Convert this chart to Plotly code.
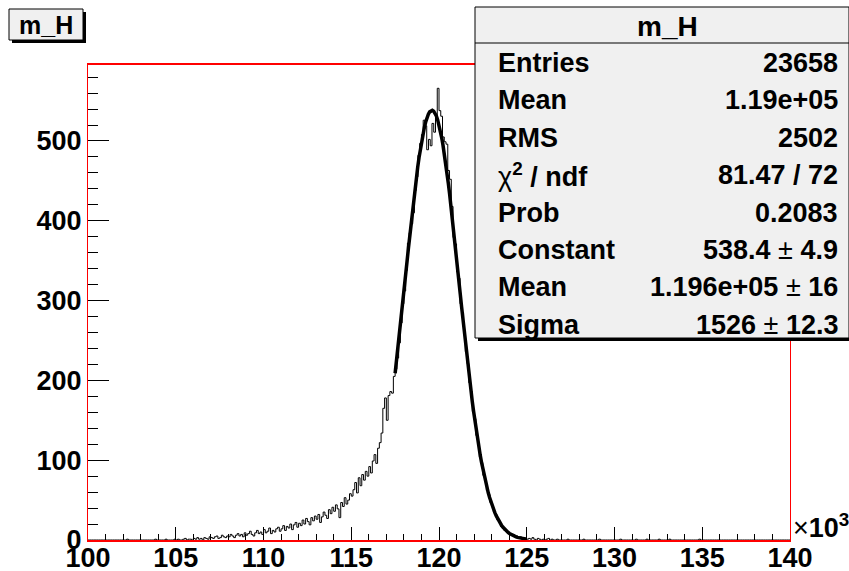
import numpy as np
import plotly.graph_objects as go

# ---- histogram m_H : 400 bins from 100 to 140 (x10^3) ----
x_lo, x_hi, n_bins = 100.0, 140.0, 400
counts = (
    [0, 0, 0, 0, 0, 0, 0, 0, 0, 0]
    + [0, 0, 0, 0, 0, 0, 0, 0, 0, 0]
    + [0, 0, 1, 0, 0, 0, 0, 0, 0, 0]
    + [0, 0, 0, 0, 0, 0, 0, 0, 1, 0]
    + [0, 0, 0, 0, 1, 0, 0, 0, 0, 1]
    + [0, 1, 0, 0, 1, 2, 0, 1, 1, 0]
    + [2, 1, 3, 1, 2, 0, 3, 2, 1, 4]
    + [3, 2, 4, 5, 2, 3, 6, 4, 3, 5]
    + [4, 7, 5, 3, 6, 8, 5, 7, 4, 9]
    + [6, 8, 11, 7, 5, 9, 12, 8, 10, 7]
    + [13, 9, 11, 15, 8, 12, 10, 14, 16, 11]
    + [14, 18, 12, 17, 15, 20, 13, 19, 22, 16]
    + [21, 18, 25, 20, 27, 23, 19, 28, 24, 30]
    + [26, 32, 22, 29, 35, 31, 27, 38, 33, 41]
    + [36, 44, 39, 28, 47, 42, 53, 45, 50, 58]
    + [55, 63, 72, 59, 78, 68, 82, 75, 86, 80]
    + [92, 84, 99, 107, 96, 115, 122, 134, 165, 178]
    + [150, 181, 186, 184, 205, 214, 228, 247, 272, 296]
    + [312, 338, 372, 385, 396, 410, 438, 455, 482, 497]
    + [508, 526, 519, 489, 502, 494, 522, 511, 530, 566]
    + [538, 531, 505, 499, 496, 463, 452, 418, 379, 371]
    + [336, 328, 296, 285, 262, 236, 221, 197, 186, 161]
    + [152, 131, 122, 104, 96, 81, 75, 62, 57, 47]
    + [43, 35, 32, 25, 23, 17, 16, 12, 11, 8]
    + [7, 6, 7, 4, 5, 3, 4, 2, 3, 2]
    + [1, 2, 1, 3, 1, 0, 2, 1, 0, 1]
    + [0, 1, 2, 0, 1, 0, 0, 1, 0, 0]
    + [0, 0, 0, 1, 0, 0, 0, 0, 0, 0]
    + [0, 0, 1, 0, 0, 0, 0, 0, 0, 0]
    + [0, 1, 0, 0, 0, 0, 0, 0, 0, 0]
    + [0, 0, 0, 1, 0, 0, 0, 0, 0, 0]
    + [0, 0, 1, 0, 0, 0, 0, 0, 1, 0]
    + [0, 0, 0, 0, 0, 1, 0, 0, 0, 0]
    + [0, 1, 0, 0, 0, 0, 0, 0, 0, 0]
    + [0, 0, 0, 0, 0, 0, 0, 0, 1, 0]
    + [0] * 50
)

# ---- gaussian fit result ----
fit_constant = 538.4
fit_mean = 119.6      # 1.196e+05
fit_sigma = 1.526     # 1526
fit_range = (117.5, 125.0)

# ---- statistics box ----
stat_title = "m_H"
stat_labels = ["Entries", "Mean", "RMS", "χ<sup>2</sup> / ndf", "Prob",
               "Constant", "Mean", "Sigma"]
stat_values = ["23658", "1.19e+05", "2502", "81.47 / 72", "0.2083",
               "538.4 ± 4.9", "1.196e+05 ± 16", "1526 ± 12.3"]

x_ticks = [100, 105, 110, 115, 120, 125, 130, 135, 140]
y_ticks = [0, 100, 200, 300, 400, 500]
y_max = 595.2

edges = np.linspace(x_lo, x_hi, n_bins + 1)
step_x = list(edges)
step_y = list(counts) + [counts[-1]]

fx = np.linspace(fit_range[0], fit_range[1], 100)
fy = fit_constant * np.exp(-0.5 * ((fx - fit_mean) / fit_sigma) ** 2)

fig = go.Figure()
fig.add_trace(go.Scatter(x=step_x, y=step_y, mode="lines", line_shape="hv",
                         line=dict(color="black", width=1), hoverinfo="skip"))
fig.add_trace(go.Scatter(x=fx, y=fy, mode="lines",
                         line=dict(color="black", width=3.5), hoverinfo="skip"))

W, H = 849, 571
L, R, T, B = 88, 790, 65, 540


def px(x):
    return (x - L) / (R - L)


def py(y):
    return (B - y) / (B - T)


font_main = "Liberation Sans, Arial, Helvetica, sans-serif"
shapes = []
annotations = []

# title pave
shapes.append(dict(type="rect", xref="paper", yref="paper", x0=px(12), x1=px(86),
                   y0=py(12), y1=py(43), fillcolor="black", line=dict(width=0), layer="above"))
shapes.append(dict(type="rect", xref="paper", yref="paper", x0=px(9), x1=px(83),
                   y0=py(9), y1=py(40), fillcolor="#f0f0f0",
                   line=dict(color="black", width=1), layer="above"))
annotations.append(dict(xref="paper", yref="paper", x=px(46), y=py(25), text="<b>m_H</b>",
                        showarrow=False, xanchor="center", yanchor="middle",
                        font=dict(family=font_main, size=25, color="black")))

# stats pave
sx0, sx1, sy0, sy1 = 475, 849, 7, 338
shapes.append(dict(type="rect", xref="paper", yref="paper", x0=px(sx0 + 3), x1=px(sx1 + 3),
                   y0=py(sy1 + 3), y1=py(sy0 + 3), fillcolor="black", line=dict(width=0), layer="above"))
shapes.append(dict(type="rect", xref="paper", yref="paper", x0=px(sx0), x1=px(sx1),
                   y0=py(sy1), y1=py(sy0), fillcolor="#f0f0f0",
                   line=dict(color="black", width=1), layer="above"))
shapes.append(dict(type="line", xref="paper", yref="paper", x0=px(sx0), x1=px(sx1),
                   y0=py(43), y1=py(43), line=dict(color="black", width=1), layer="above"))
annotations.append(dict(xref="paper", yref="paper", x=px(667), y=py(26), text="<b>" + stat_title + "</b>",
                        showarrow=False, xanchor="center", yanchor="middle",
                        font=dict(family=font_main, size=28, color="black")))


def boldify(s):
    # bold everything except the ± sign
    out = s.replace(" ± ", "</b> ± <b>")
    return "<b>" + out + "</b>"


row_y0, row_dy = 63, 37.4
for k, (lab, val) in enumerate(zip(stat_labels, stat_values)):
    yy = row_y0 + k * row_dy
    if lab.startswith("χ"):
        lab_txt = "χ<sup><b>2</b></sup><b> / ndf</b>"
    else:
        lab_txt = "<b>" + lab + "</b>"
    annotations.append(dict(xref="paper", yref="paper", x=px(496), y=py(yy), text=lab_txt,
                            showarrow=False, xanchor="left", yanchor="middle",
                            font=dict(family=font_main, size=27, color="black")))
    annotations.append(dict(xref="paper", yref="paper", x=px(840), y=py(yy), text=boldify(val),
                            showarrow=False, xanchor="right", yanchor="middle",
                            font=dict(family=font_main, size=27, color="black")))

# axis exponent label
annotations.append(dict(xref="paper", yref="paper", x=px(791), y=py(526),
                        text="×<b>10<sup>3</sup></b>", showarrow=False,
                        xanchor="left", yanchor="middle",
                        font=dict(family=font_main, size=27, color="black")))

tick_font = dict(family=font_main, size=27, color="black", weight="bold")

fig.update_layout(
    width=W, height=H,
    margin=dict(l=L, r=W - R, t=T, b=H - B, pad=0, autoexpand=False),
    paper_bgcolor="white", plot_bgcolor="white",
    showlegend=False,
    shapes=shapes, annotations=annotations,
    xaxis=dict(range=[x_lo, x_hi], tickmode="array", tickvals=x_ticks,
               ticktext=[str(v) for v in x_ticks], ticks="inside", ticklen=13,
               tickcolor="black", tickwidth=1, showgrid=False, zeroline=False,
               showline=True, linecolor="red", linewidth=2, mirror=True,
               tickfont=tick_font, automargin=False, ticklabelstandoff=-7,
               minor=dict(dtick=1, ticks="inside", ticklen=6, tickcolor="black", showgrid=False)),
    yaxis=dict(range=[0, y_max], tickmode="array", tickvals=y_ticks,
               ticktext=[str(v) for v in y_ticks], ticks="inside", ticklen=21,
               tickcolor="black", tickwidth=1, showgrid=False, zeroline=False,
               showline=True, linecolor="red", linewidth=1, mirror=True,
               tickfont=tick_font, automargin=False,
               minor=dict(dtick=20, ticks="inside", ticklen=10, tickcolor="black", showgrid=False)),
)

fig.write_html("out.html")
